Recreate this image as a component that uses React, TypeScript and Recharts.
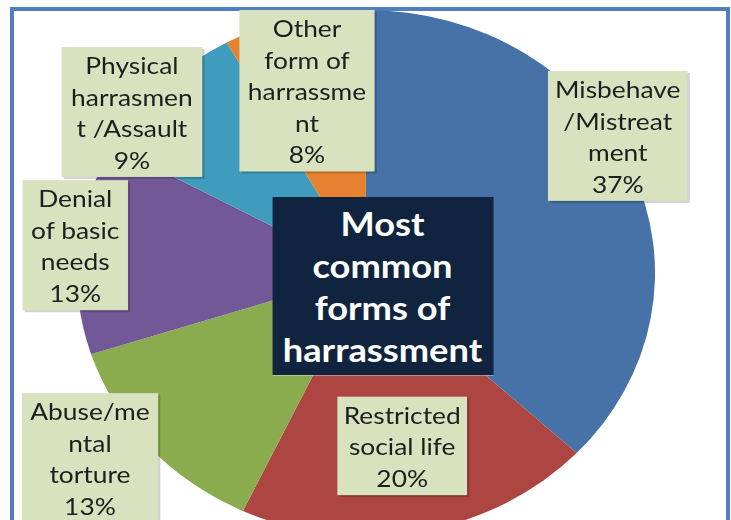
import React from 'react';
import { PieChart, Pie, Cell } from 'recharts';

const categories = [
  'Misbehave /Mistreatment',
  'Restricted social life',
  'Abuse/mental torture',
  'Denial of basic needs',
  'Physical harrasment /Assault',
  'Other form of harrassment',
];
const shares = [37, 20, 13, 13, 9, 8];
const labelLines = [
  ['Misbehave', '/Mistreat', 'ment'],
  ['Restricted', 'social life'],
  ['Abuse/me', 'ntal', 'torture'],
  ['Denial', 'of basic', 'needs'],
  ['Physical', 'harrasmen', 't /Assault'],
  ['Other', 'form of', 'harrassme', 'nt'],
];
const titleLines = ['Most', 'common', 'forms of', 'harrassment'];

const COLORS = ['#4672a8', '#ad4542', '#8bab4f', '#735897', '#3f9cbd', '#e5812f'];

// callout boxes: distance from centre, angle nudge off the slice middle, box width
const CALLOUTS = [
  { r: 267, nudge: 7.5, w: 127 },
  { r: 176, nudge: 0, w: 118 },
  { r: 312, nudge: -5, w: 124 },
  { r: 266, nudge: -0.6, w: 96 },
  { r: 267, nudge: 7.9, w: 128 },
  { r: 190, nudge: 2, w: 123 },
];

const data = categories.map((name, i) => ({ name, value: shares[i] }));

// the source picture is stretched sideways, so the whole chart gets scaled on x
const SX = 1.099;
const W = 665;
const H = 520;
const CX = 333;
const CY = 273;
const R = 263;
const LINE_H = 31.5;
const RAD = Math.PI / 180;

const renderCallout = (props: any) => {
  const { midAngle, index } = props;
  const cx = typeof props.cx === 'number' ? props.cx : CX;
  const cy = typeof props.cy === 'number' ? props.cy : CY;
  const c = CALLOUTS[index];
  const a = (midAngle + c.nudge) * RAD;
  const x = cx + c.r * Math.cos(-a);
  const y = cy + c.r * Math.sin(-a);
  const lines = [...labelLines[index], `${shares[index]}%`];
  const h = lines.length * LINE_H + 4;
  return (
    <g key={`callout-${index}`}>
      <rect x={x - c.w / 2 + 2} y={y - h / 2 + 2} width={c.w} height={h} fill="#000" fillOpacity={0.18} />
      <rect x={x - c.w / 2} y={y - h / 2} width={c.w} height={h} fill="#d8e2bf" />
      {lines.map((t, i) => (
        <text
          key={i}
          x={x}
          y={y - (lines.length * LINE_H) / 2 + LINE_H * (i + 0.5)}
          textAnchor="middle"
          dominantBaseline="central"
          fontFamily="Lato, 'Open Sans', sans-serif"
          fontSize={24}
          fill="#1e1e1e"
        >
          {t}
        </text>
      ))}
    </g>
  );
};

export default function App() {
  return (
    <div style={{ position: 'absolute', left: 0, top: 0, width: 731, height: 520, overflow: 'hidden', background: '#fff' }}>
      <div
        style={{
          position: 'absolute',
          left: 10,
          top: 7,
          width: 720,
          height: 600,
          border: '4px solid #4f7fc0',
          boxSizing: 'border-box',
        }}
      />
      <div style={{ position: 'absolute', left: 0, top: 0, width: W, height: H, transform: `scaleX(${SX})`, transformOrigin: '0 0' }}>
        <PieChart width={W} height={H} margin={{ top: 0, right: 0, bottom: 0, left: 0 }}>
          <Pie
            data={data}
            dataKey="value"
            nameKey="name"
            cx={CX}
            cy={CY}
            outerRadius={R}
            startAngle={90}
            endAngle={-270}
            stroke="none"
            label={renderCallout}
            labelLine={false}
            isAnimationActive={false}
          >
            {data.map((d, i) => (
              <Cell key={d.name} fill={COLORS[i]} />
            ))}
          </Pie>
        </PieChart>
        <div
          style={{
            position: 'absolute',
            left: 247.5,
            top: 197,
            width: 201,
            height: 178,
            background: '#10243f',
            color: '#fff',
            fontFamily: 'Lato, sans-serif',
            fontWeight: 700,
            fontSize: 33,
            lineHeight: '42px',
            textAlign: 'center',
            display: 'flex',
            flexDirection: 'column',
            justifyContent: 'center',
          }}
        >
          {titleLines.map((t) => (
            <div key={t}>{t}</div>
          ))}
        </div>
      </div>
    </div>
  );
}
